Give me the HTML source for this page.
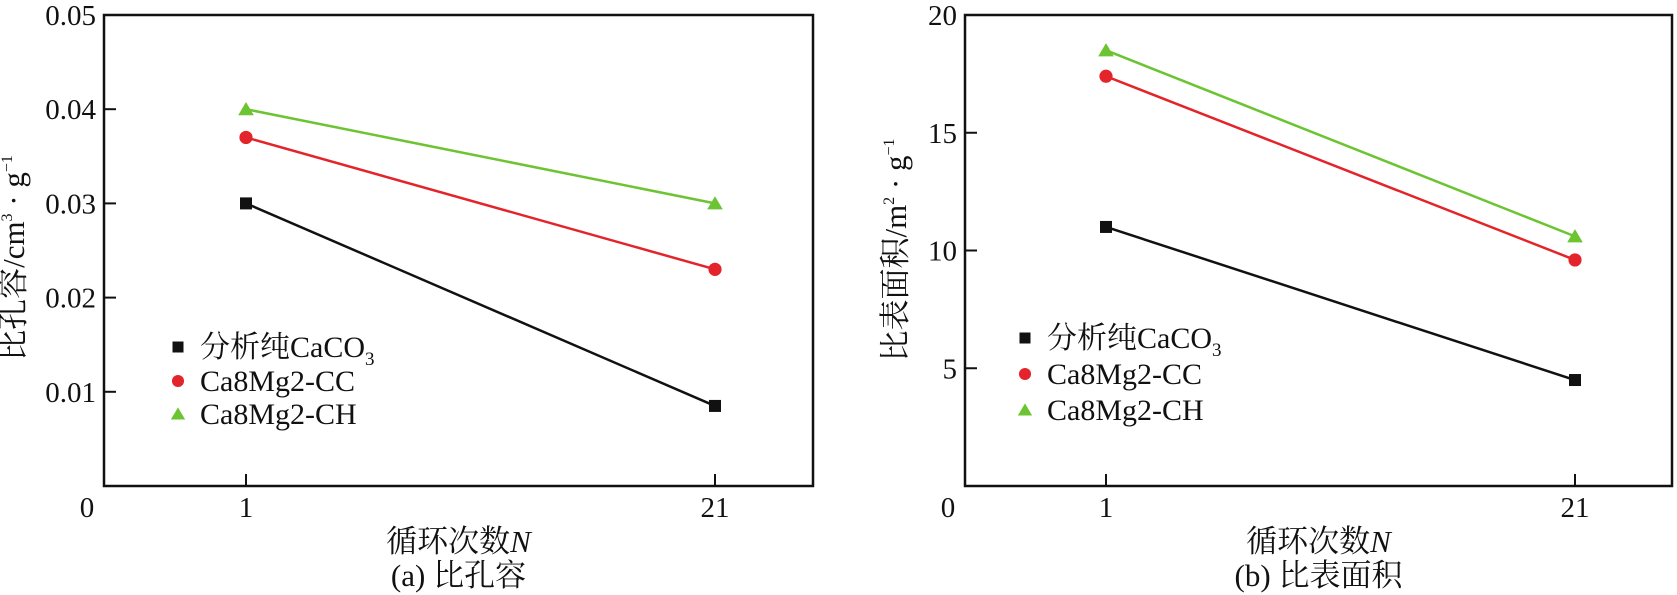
<!DOCTYPE html>
<html><head><meta charset="utf-8">
<style>
html,body{margin:0;padding:0;background:#fff;}
svg{display:block;font-family:"Liberation Serif","Noto Serif CJK SC","Noto Sans CJK SC",serif;}
text{font-family:"Liberation Serif","Noto Serif CJK SC","Noto Sans CJK SC",serif;}
</style></head>
<body>
<svg id="chart" width="1677" height="595" viewBox="0 0 1677 595" xmlns="http://www.w3.org/2000/svg"></svg>
<script>
const xCats = [1, 21];
const aTicks = [0.01, 0.02, 0.03, 0.04];
const aTickLabels = ["0.01", "0.02", "0.03", "0.04", "0.05"];
const aBlack = [0.030, 0.0085];
const aRed = [0.037, 0.023];
const aGreen = [0.040, 0.030];
const bTicks = [5, 10, 15];
const bTickLabels = ["5", "10", "15", "20"];
const bBlack = [11.0, 4.5];
const bRed = [17.4, 9.6];
const bGreen = [18.5, 10.6];

const NS = "http://www.w3.org/2000/svg";
const svg = document.getElementById("chart");
function mk(tag, attrs, parent) {
  const e = document.createElementNS(NS, tag);
  for (const k in attrs) e.setAttribute(k, attrs[k]);
  (parent || svg).appendChild(e);
  return e;
}

function panel(cfg) {
  const g = mk("g", {});
  
  
  const L = cfg.left, R = cfg.right, T = 15, B = 486;
  const ymax = cfg.ymax;
  const ys = v => B - v / ymax * (B - T);
  const xs = c => cfg.x1 + (c - xCats[0]) / (xCats[1] - xCats[0]) * (cfg.x21 - cfg.x1);
  const frame = mk("rect", {x: L, y: T, width: R - L, height: B - T, fill: "none", stroke: "#111", "stroke-width": 2.5}, g);
  
  
  cfg.ticks.forEach(v => {
    const t = mk("line", {x1: L, x2: L + 12, y1: ys(v), y2: ys(v), stroke: "#111", "stroke-width": 2}, g);
    
    
  });
  const yl = cfg.ticks.concat([ymax]);
  yl.forEach((v, i) => {
    const t = mk("text", {x: L - 8, y: ys(v) + 10, "text-anchor": "end", "font-size": 29, fill: "#111"}, g);
    t.textContent = cfg.tickLabels[i];
    
    
  });
  const z = mk("text", {x: L - 17, y: 517, "text-anchor": "middle", "font-size": 29, fill: "#111"}, g);
  z.textContent = "0";
  
  
  xCats.forEach(c => {
    const t = mk("line", {x1: xs(c), x2: xs(c), y1: B, y2: B - 12, stroke: "#111", "stroke-width": 2}, g);
    
    
    const l = mk("text", {x: xs(c), y: 517, "text-anchor": "middle", "font-size": 29, fill: "#111"}, g);
    l.textContent = String(c);
    
    
  });
  const xt = mk("text", {x: (L + R) / 2, y: 552, "text-anchor": "middle", "font-size": 31, fill: "#111"}, g);
  xt.innerHTML = '循环次数<tspan font-style="italic">N</tspan>';
  
  
  const cap = mk("text", {x: (L + R) / 2, y: 586, "text-anchor": "middle", "font-size": 31, fill: "#111"}, g);
  cap.textContent = cfg.caption;
  
  
  const yt = mk("text", {transform: `translate(${cfg.ytx},${cfg.yty}) rotate(-90)`, "text-anchor": "middle", "font-size": 31, fill: "#111"}, g);
  yt.innerHTML = cfg.ytitle;
  
  
  const series = [
    {d: cfg.black, c: "#111", m: "square", n: "series-pure-caco3"},
    {d: cfg.red, c: "#e3242b", m: "circle", n: "series-ca8mg2-cc"},
    {d: cfg.green, c: "#6cc433", m: "triangle", n: "series-ca8mg2-ch"}
  ];
  function marker(m, x, y, c, parent, s) {
    let e;
    if (m === "square") e = mk("rect", {x: x - s, y: y - s, width: 2 * s, height: 2 * s, fill: c}, parent);
    else if (m === "circle") e = mk("circle", {cx: x, cy: y, r: s * 1.1, fill: c}, parent);
    else e = mk("polygon", {points: `${x},${y - s * 1.2} ${x - s * 1.3},${y + s} ${x + s * 1.3},${y + s}`, fill: c}, parent);
    return e;
  }
  series.forEach(s => {
    const sg = mk("g", {}, g);
    
    
    const ln = mk("line", {x1: xs(xCats[0]), y1: ys(s.d[0]), x2: xs(xCats[1]), y2: ys(s.d[1]), stroke: s.c, "stroke-width": 2.5}, sg);
    
    
    s.d.forEach((v, i) => {
      const p = marker(s.m, xs(xCats[i]), ys(v), s.c, sg, 6);
      
      
    });
  });
  const lg = mk("g", {}, g);
  
  
  const labels = ['分析纯CaCO<tspan font-size="19" dy="8">3</tspan>', 'Ca8Mg2-CC', 'Ca8Mg2-CH'];
  series.forEach((s, i) => {
    const y = cfg.legY[i];
    const e = mk("g", {}, lg);
    
    
    marker(s.m, cfg.legX, y, s.c, e, 5.5);
    const t = mk("text", {x: cfg.legX + 22, y: y + 10, "font-size": 30, fill: "#111"}, e);
    t.innerHTML = labels[i];
  });
}

panel({name: "panel-a-pore-volume", left: 104, right: 813, x1: 246, x21: 715, ymax: 0.05,
  ticks: aTicks, tickLabels: aTickLabels, black: aBlack, red: aRed, green: aGreen,
  caption: "(a) 比孔容", ytx: 24, yty: 258,
  ytitle: '比孔容/cm<tspan font-size="16" dy="-12">3</tspan><tspan dy="12"> · g</tspan><tspan font-size="16" dy="-12">−1</tspan>',
  legX: 178, legY: [347, 381, 414]});
panel({name: "panel-b-surface-area", left: 965, right: 1672, x1: 1106, x21: 1575, ymax: 20,
  ticks: bTicks, tickLabels: bTickLabels, black: bBlack, red: bRed, green: bGreen,
  caption: "(b) 比表面积", ytx: 906, yty: 250,
  ytitle: '比表面积/m<tspan font-size="16" dy="-12">2</tspan><tspan dy="12"> · g</tspan><tspan font-size="16" dy="-12">−1</tspan>',
  legX: 1025, legY: [338, 374, 410]});
</script>
</body></html>
